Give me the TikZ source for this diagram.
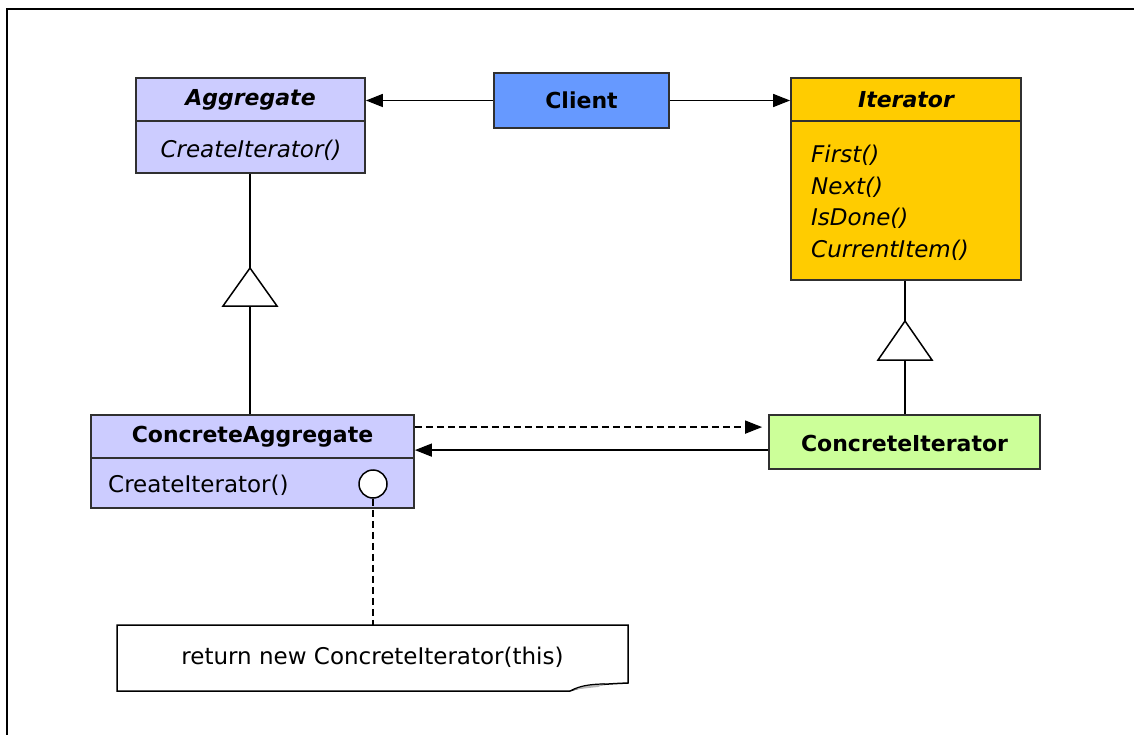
\documentclass[tikz,border=0pt]{standalone}
\usepackage{fontspec}
\setmainfont{DejaVu Sans}
\usetikzlibrary{arrows.meta,calc}
\definecolor{lav}{HTML}{CCCCFF}
\definecolor{clientblue}{HTML}{6699FF}
\definecolor{itergold}{HTML}{FFCC00}
\definecolor{citgreen}{HTML}{CCFF99}
\definecolor{edge}{HTML}{303030}
\tikzset{
  classbox/.style={draw=edge, line width=1.8pt, rectangle, inner sep=0pt},
  boldtxt/.style={font=\fontsize{22}{26}\selectfont\bfseries, inner sep=0pt},
  bolditxt/.style={font=\fontsize{22}{26}\selectfont\bfseries\itshape, inner sep=0pt},
  itxt/.style={font=\fontsize{23}{27}\selectfont\itshape, inner sep=0pt},
  rtxt/.style={font=\fontsize{23}{27}\selectfont, inner sep=0pt},
  conn/.style={line width=1.5pt, draw=black},
  arr/.style={conn, -{Triangle[length=17pt,width=13pt]}},
  dashconn/.style={conn, dash pattern=on 7pt off 4pt},
}
\begin{document}
\begin{tikzpicture}[x=1pt,y=-1pt]
\useasboundingbox (0,0) rectangle (1134,735);
% frame (left and top only visible)
\draw[line width=2.5pt] (7,735) -- (7,9) -- (1134,9);

% Aggregate
\node[classbox, fill=lav, minimum width=229pt, minimum height=95pt] (agg) at (250.5,125.5) {};
\draw[classbox] (agg.west |- 0,121) -- (agg.east |- 0,121);
\node[bolditxt] (aggT) at (250.5,100) {Aggregate};
\node[itxt] (aggM) at (251,150) {CreateIterator()};

% Client
\node[classbox, fill=clientblue, minimum width=175pt, minimum height=55pt] (client) at (581.5,100.5) {};
\node[boldtxt] (clientT) at (581.5,100) {Client};

% Iterator
\node[classbox, fill=itergold, minimum width=230pt, minimum height=202pt] (iter) at (906,179) {};
\draw[classbox] (iter.west |- 0,121) -- (iter.east |- 0,121);
\node[bolditxt] (iterT) at (906,100) {Iterator};
\node[itxt, anchor=west] (m1) at (811,155) {First()};
\node[itxt, anchor=west] (m2) at (811,187) {Next()};
\node[itxt, anchor=west] (m3) at (811,218) {IsDone()};
\node[itxt, anchor=west] (m4) at (811,250) {CurrentItem()};

% ConcreteAggregate
\node[classbox, fill=lav, minimum width=323pt, minimum height=93pt] (ca) at (252.5,461.5) {};
\draw[classbox] (ca.west |- 0,458) -- (ca.east |- 0,458);
\node[boldtxt] (caT) at (252.5,437) {ConcreteAggregate};
\node[rtxt, anchor=west] (caM) at (108,485) {CreateIterator()};
\node[circle, draw=black, line width=1.5pt, fill=white, minimum size=28pt, inner sep=0pt] (dot) at (373,484) {};

% ConcreteIterator
\node[classbox, fill=citgreen, minimum width=271pt, minimum height=54pt] (ci) at (904.5,442) {};
\node[boldtxt] (ciT) at (904.5,443) {ConcreteIterator};

% Note
\coordinate (noteTL) at (117,625);
\draw[line width=1.5pt, fill=white] (noteTL) -- (628,625) -- (628,683)
   .. controls (605,684) and (585,685) .. (570,691) -- (117,691) -- cycle;
\fill[gray!55] (572,690) .. controls (580,686) and (590,684) .. (605,684) -- (598,687) .. controls (588,688) .. (572,690);
\draw[line width=1.2pt] (572,690) .. controls (580,686) and (590,684) .. (605,684);
\node[rtxt] (note) at (372.5,657) {return new ConcreteIterator(this)};
\coordinate (noteTop) at (373,625);

% Client associations
\draw[arr] (client.west) -- (client.west -| agg.east);
\draw[arr] (client.east) -- (client.east -| iter.west);

% Inheritance Aggregate <- ConcreteAggregate
\coordinate (t1a) at (250,268);
\coordinate (t1b) at (250,306);
\draw[conn] (agg.south -| t1a) -- (t1a);
\draw[conn, fill=white] (t1a) -- (223,306) -- (277,306) -- cycle;
\draw[conn] (t1b) -- (ca.north -| t1b);

% Inheritance Iterator <- ConcreteIterator
\coordinate (t2a) at (905,321);
\coordinate (t2b) at (905,360);
\draw[conn] (iter.south -| t2a) -- (t2a);
\draw[conn, fill=white] (t2a) -- (878,360) -- (932,360) -- cycle;
\draw[conn] (t2b) -- (ci.north -| t2b);

% ConcreteAggregate <-> ConcreteIterator
\draw[dashconn, -{Triangle[length=17pt,width=13pt]}, shorten >=6pt]
  ([yshift=-13pt]ca.north east) -- ([yshift=-13pt]ca.north east -| ci.west);
\draw[arr] ([yshift=-36pt]ci.north west) -- ([yshift=-36pt]ci.north west -| ca.east);

% note link
\draw[dashconn] (dot.south) -- (noteTop);
\end{tikzpicture}
\end{document}
